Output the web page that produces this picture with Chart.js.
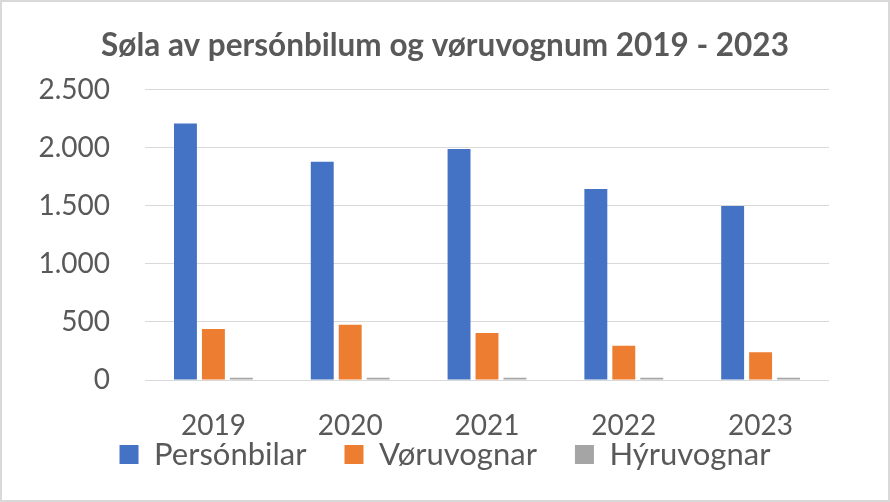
<!DOCTYPE html>
<html>
<head>
<meta charset="utf-8">
<script src="https://cdn.jsdelivr.net/npm/chart.js@4.4.0/dist/chart.umd.min.js"></script>
<style>
    body { margin: 0; background: #fff; }
    #wrap {
        width: 890px;
        height: 502px;
        box-sizing: border-box;
        border: 2px solid #d9d9d9;
        background: #fff;
    }
</style>
</head>
<body>
<div id="wrap"><canvas id="myChart" width="886" height="498"></canvas></div>
<script>
// Chart data
const years = ['2019', '2020', '2021', '2022', '2023'];
const personbilar = [2210, 1880, 1990, 1645, 1500];
const voruvognar = [440, 475, 405, 295, 240];
const hyruvognar = [20, 20, 20, 20, 20];
const seriesNames = ['Persónbilar', 'Vøruvognar', 'Hýruvognar'];
const yTicks = [0, 500, 1000, 1500, 2000, 2500];

const textColor = '#595959';
const fontName = 'Lato';

function formatThousands(v) {
    return String(v).replace(/\B(?=(\d{3})+(?!\d))/g, '.');
}

const ctx = document.getElementById('myChart').getContext('2d');

const chart = new Chart(ctx, {
    type: 'bar',
    data: {
        labels: years,
        datasets: [
            { label: seriesNames[0], data: personbilar, backgroundColor: '#4472c4' },
            { label: seriesNames[1], data: voruvognar, backgroundColor: '#ed7d31' },
            { label: seriesNames[2], data: hyruvognar, backgroundColor: '#a5a5a5' }
        ]
    },
    options: {
        responsive: false,
        animation: false,
        layout: { padding: { left: 0, right: 0, top: 0, bottom: 20 } },
        datasets: {
            bar: { categoryPercentage: 0.613, barPercentage: 0.82 }
        },
        scales: {
            x: {
                grid: { display: false },
                border: { display: false },
                ticks: {
                    color: textColor,
                    font: { family: fontName, size: 28 },
                    // mirrored so the labels are not clipped by the short axis box
                    mirror: true,
                    padding: -63
                },
                afterFit: (scale) => { scale.height = 21; }
            },
            y: {
                min: yTicks[0],
                max: yTicks[yTicks.length - 1],
                grid: { color: '#d9d9d9', lineWidth: 1, drawTicks: false },
                border: { display: false },
                afterBuildTicks: (scale) => {
                    scale.ticks = yTicks.map(v => ({ value: v }));
                },
                ticks: {
                    color: textColor,
                    font: { family: fontName, size: 28 },
                    padding: 35,
                    callback: (v) => formatThousands(v)
                },
                afterFit: (scale) => { scale.width = 143; }
            },
            // empty right axis, only keeps space so title and legend stay centred
            yRight: {
                position: 'right',
                grid: { display: false },
                border: { display: false },
                ticks: { display: false },
                afterFit: (scale) => { scale.width = 59; }
            }
        },
        plugins: {
            title: {
                display: true,
                text: 'Søla av persónbilum og vøruvognum 2019 - 2023',
                color: textColor,
                font: { family: fontName, size: 31.5, weight: 'bold' },
                padding: { top: 25, bottom: 25 }
            },
            legend: {
                position: 'bottom',
                labels: {
                    color: textColor,
                    font: { family: fontName, size: 31 },
                    boxWidth: 19,
                    boxHeight: 19,
                    padding: 38
                }
            },
            tooltip: { enabled: false }
        }
    }
});
</script>
</body>
</html>
